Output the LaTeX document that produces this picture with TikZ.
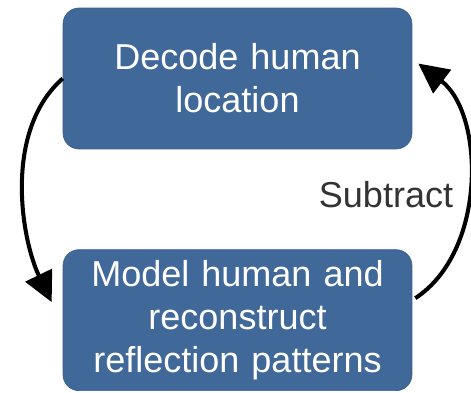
\documentclass[tikz,border=0pt]{standalone}
\usepackage{fontspec}
\setmainfont{Liberation Sans}
\usetikzlibrary{positioning,arrows.meta}

\definecolor{boxblue}{RGB}{64,104,153}
\definecolor{labelgray}{RGB}{51,51,51}

\begin{document}
\begin{tikzpicture}[x=0.02cm, y=-0.02cm,
    box/.style={draw=boxblue!90!black, fill=boxblue, rounded corners=0.32cm,
      minimum width=6.98cm, minimum height=2.82cm, text width=6.6cm,
      align=center, text=white, font=\fontsize{20.5}{24.5}\selectfont},
    loop/.style={-{Triangle[length=0.6cm,width=0.58cm]}, line width=2.3pt, black}]
  \useasboundingbox (0,0) rectangle (471,393);
  \node[box] (top) at (237.5,78.5) {Decode human\\location};
  \node[box] (bot) [below=2cm of top] {Model human and\\reconstruct\\reflection patterns};
  \node[text=labelgray, font=\fontsize{20.5}{24}\selectfont] (sub) at (386,195) {Subtract};
  \draw[loop] (top.west) .. controls +(-60,53) and +(-30,-62) .. ([xshift=-0.22cm,yshift=0.36cm]bot.west);
  \draw[loop] ([xshift=0.06cm,yshift=0.44cm]bot.east) .. controls +(72,-47) and +(66,50) .. ([xshift=0.12cm,yshift=0.3cm]top.east);
\end{tikzpicture}
\end{document}
